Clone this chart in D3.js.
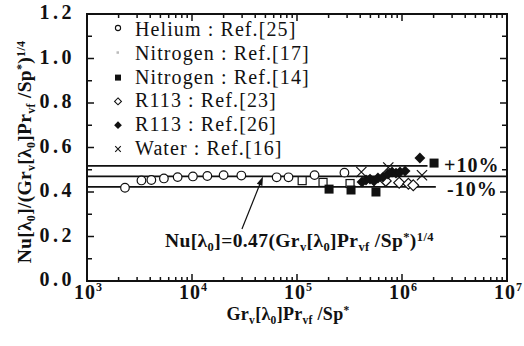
<!DOCTYPE html>
<html>
<head>
<meta charset="utf-8">
<script src="https://cdn.jsdelivr.net/npm/d3@7"></script>
<style>
  html, body { margin: 0; padding: 0; background: #fff; }
  svg { display: block; }
  text { font-family: "Liberation Serif", "Times New Roman", serif; fill: #111; }
</style>
</head>
<body>
<svg id="chart" width="524" height="346"></svg>
<script>
// Helium : Ref.[25]  (open circles)
const heliumX = [2300, 3300, 4100, 5400, 7300, 10200, 14000, 20000, 29500, 64000, 83000, 147000, 283000];
const heliumY = [0.419, 0.452, 0.454, 0.461, 0.467, 0.470, 0.472, 0.476, 0.474, 0.466, 0.466, 0.476, 0.487];
// Nitrogen : Ref.[17]  (open squares)
const nitrogen17X = [112000, 177000, 320000];
const nitrogen17Y = [0.451, 0.443, 0.438];
// Nitrogen : Ref.[14]  (filled squares)
const nitrogen14X = [202000, 327000, 565000, 2020000];
const nitrogen14Y = [0.413, 0.409, 0.400, 0.530];
// R113 : Ref.[23]  (open diamonds)
const r113aX = [700000, 940000, 1150000, 1280000];
const r113aY = [0.450, 0.442, 0.437, 0.430];
// R113 : Ref.[26]  (filled diamonds)
const r113bX = [416000, 454000, 496000, 541000, 590000, 659000, 736000, 804000, 877000, 957000, 1070000, 1480000];
const r113bY = [0.445, 0.454, 0.458, 0.449, 0.463, 0.467, 0.481, 0.490, 0.485, 0.490, 0.494, 0.553];
// Water : Ref.[16]  (crosses)
const waterX = [410000, 740000, 1550000];
const waterY = [0.490, 0.510, 0.475];

// Correlation and ±10 % band
const corrCoef = 0.47;
const bandLabels = ["+10%", "-10%"];
const yTicks = [0.0, 0.2, 0.4, 0.6, 0.8, 1.0, 1.2];
const xDecades = [3, 4, 5, 6, 7];

const legendLabels = [
  "Helium : Ref.[25]", "Nitrogen : Ref.[17]", "Nitrogen : Ref.[14]",
  "R113 : Ref.[23]", "R113 : Ref.[26]", "Water : Ref.[16]"
];

const svg = d3.select("#chart");
const L = 87, R = 507, T = 14, B = 281;
const x = d3.scaleLog().domain([1e3, 1e7]).range([L, R]);
const y = d3.scaleLinear().domain([0, 1.2]).range([B, T]);

// rich text helper: segments of [text, mode] with mode '' | 'sub' | 'sup'
function rich(sel, segs, subSize, shift) {
  let cur = 0;
  segs.forEach(([t, m]) => {
    const target = m === "sub" ? shift : m === "sup" ? -shift * 1.5 : 0;
    const ts = sel.append("tspan").text(t).attr("dy", target - cur);
    if (m) ts.attr("font-size", subSize);
    cur = target;
  });
  return sel;
}

// ---- band lines
const lines = svg.append("g").attr("stroke", "#111").attr("stroke-width", 1.8);
lines.append("line").attr("x1", x(1e3)).attr("x2", x(1.75e6))
  .attr("y1", y(corrCoef * 1.1)).attr("y2", y(corrCoef * 1.1));
lines.append("line").attr("x1", x(1e3)).attr("x2", x(1e7))
  .attr("y1", y(corrCoef)).attr("y2", y(corrCoef));
lines.append("line").attr("x1", x(1e3)).attr("x2", x(2.1e6))
  .attr("y1", y(corrCoef * 0.9)).attr("y2", y(corrCoef * 0.9));

// ---- markers
const g = svg.append("g");
const pts = (xs, ys) => xs.map((v, i) => [x(v), y(ys[i])]);

g.selectAll(".he").data(pts(heliumX, heliumY)).join("circle")
  .attr("cx", d => d[0]).attr("cy", d => d[1]).attr("r", 4.3)
  .attr("fill", "#fff").attr("stroke", "#111").attr("stroke-width", 1.2);

g.selectAll(".n17").data(pts(nitrogen17X, nitrogen17Y)).join("rect")
  .attr("x", d => d[0] - 4).attr("y", d => d[1] - 4).attr("width", 8).attr("height", 8)
  .attr("fill", "#fff").attr("stroke", "#111").attr("stroke-width", 1.2);

g.selectAll(".n14").data(pts(nitrogen14X, nitrogen14Y)).join("rect")
  .attr("x", d => d[0] - 4.5).attr("y", d => d[1] - 4.5).attr("width", 9).attr("height", 9)
  .attr("fill", "#111");

const diamond = d3.symbol().type(d3.symbolDiamond2).size(75);
g.selectAll(".r23").data(pts(r113aX, r113aY)).join("path")
  .attr("transform", d => `translate(${d[0]},${d[1]})`).attr("d", diamond)
  .attr("fill", "#fff").attr("stroke", "#111").attr("stroke-width", 1.2);

g.selectAll(".r26").data(pts(r113bX, r113bY)).join("path")
  .attr("transform", d => `translate(${d[0]},${d[1]})`).attr("d", diamond)
  .attr("fill", "#111");

const cross = d3.symbol().type(d3.symbolX).size(70);
g.selectAll(".w").data(pts(waterX, waterY)).join("path")
  .attr("transform", d => `translate(${d[0]},${d[1]})`).attr("d", cross)
  .attr("fill", "none").attr("stroke", "#111").attr("stroke-width", 1.2);

// ---- axes frame and inward ticks
const ax = svg.append("g").attr("stroke", "#111");
ax.append("rect").attr("x", L).attr("y", T).attr("width", R - L).attr("height", B - T)
  .attr("fill", "none").attr("stroke-width", 2);

const yMinor = d3.range(0, 13).map(i => i / 10);
yMinor.forEach(v => {
  const len = Math.round(v * 10) % 2 === 0 ? 7 : 5;
  ax.append("line").attr("x1", L).attr("x2", L + len).attr("y1", y(v)).attr("y2", y(v)).attr("stroke-width", 1.5);
  ax.append("line").attr("x1", R).attr("x2", R - len).attr("y1", y(v)).attr("y2", y(v)).attr("stroke-width", 1.5);
});
const xMinor = [];
for (let e = 3; e < 7; e++) for (let k = 1; k < 10; k++) xMinor.push([k * Math.pow(10, e), k === 1]);
xMinor.push([1e7, true]);
xMinor.forEach(([v, major]) => {
  const len = major ? 7 : 4;
  ax.append("line").attr("x1", x(v)).attr("x2", x(v)).attr("y1", B).attr("y2", B - len).attr("stroke-width", 1.5);
  ax.append("line").attr("x1", x(v)).attr("x2", x(v)).attr("y1", T).attr("y2", T + len).attr("stroke-width", 1.5);
});

// ---- tick labels
svg.append("g").selectAll("text").data(yTicks).join("text")
  .attr("x", L - 12).attr("y", d => y(d) + 5)
  .attr("text-anchor", "end").attr("font-size", 20).attr("font-weight", "bold")
  .attr("letter-spacing", 3.5)
  .text(d => d.toFixed(1));

svg.append("g").selectAll("text").data(xDecades).join("text")
  .attr("x", d => x(Math.pow(10, d)) + 1).attr("y", 299)
  .attr("text-anchor", "middle").attr("font-size", 20).attr("font-weight", "bold")
  .each(function (d) {
    const t = d3.select(this);
    t.append("tspan").text("10").attr("letter-spacing", 1);
    t.append("tspan").text(String(d)).attr("font-size", 12).attr("dy", -8);
  });

// ---- axis titles
rich(svg.append("text").attr("x", 288).attr("y", 320).attr("text-anchor", "middle")
  .attr("font-size", 18).attr("font-weight", "bold").attr("letter-spacing", 0.3),
  [["Gr", ""], ["v", "sub"], ["[λ", ""], ["0", "sub"], ["]Pr", ""], ["vf", "sub"], [" /Sp", ""], ["*", "sup"]], 11.5, 4);

rich(svg.append("text").attr("transform", "translate(31,152) rotate(-90)").attr("text-anchor", "middle")
  .attr("font-size", 19.5).attr("font-weight", "bold").attr("letter-spacing", 0.3),
  [["Nu[λ", ""], ["0", "sub"], ["]/(Gr", ""], ["v", "sub"], ["[λ", ""], ["0", "sub"], ["]Pr", ""], ["vf", "sub"],
   [" /Sp", ""], ["*", "sup"], [")", ""], ["1/4", "sup"]], 12, 4);

// ---- band labels
svg.append("text").attr("x", 444).attr("y", y(corrCoef * 1.1) + 6).attr("font-size", 20).attr("font-weight", "bold")
  .attr("letter-spacing", 1).text(bandLabels[0]);
svg.append("text").attr("x", 447).attr("y", y(corrCoef * 0.9) + 9).attr("font-size", 20).attr("font-weight", "bold")
  .attr("letter-spacing", 1).text(bandLabels[1]);

// ---- correlation annotation with arrow
const tip = [x(47400), y(corrCoef)];
const tail = [x(29900), y(0.234)];
const ang = Math.atan2(tip[1] - tail[1], tip[0] - tail[0]);
svg.append("line").attr("x1", tail[0]).attr("y1", tail[1]).attr("x2", tip[0] - 6 * Math.cos(ang)).attr("y2", tip[1] - 6 * Math.sin(ang))
  .attr("stroke", "#111").attr("stroke-width", 1.2);
const ah = 9, aw = 3;
svg.append("path").attr("fill", "#111").attr("d", () => {
  const bx = tip[0] - ah * Math.cos(ang), by = tip[1] - ah * Math.sin(ang);
  const px = -Math.sin(ang) * aw, py = Math.cos(ang) * aw;
  return `M${tip[0]},${tip[1]}L${bx + px},${by + py}L${bx - px},${by - py}Z`;
});

rich(svg.append("text").attr("x", 165).attr("y", 247).attr("font-size", 19.5).attr("font-weight", "bold")
  .attr("letter-spacing", 0.4),
  [["Nu[λ", ""], ["0", "sub"], ["]=0.47(Gr", ""], ["v", "sub"], ["[λ", ""], ["0", "sub"], ["]Pr", ""], ["vf", "sub"],
   [" /Sp", ""], ["*", "sup"], [")", ""], ["1/4", "sup"]], 12.5, 4);

// ---- legend
const legX = 118, legTextX = 135, legY0 = 30, legDy = 23.8;
const lg = svg.append("g");
legendLabels.forEach((lab, i) => {
  const cy = legY0 + i * legDy;
  lg.append("text").attr("x", legTextX).attr("y", cy + 6).attr("font-size", 20)
    .attr("letter-spacing", 1.1).text(lab);
});
lg.append("circle").attr("cx", legX).attr("cy", legY0 - 2).attr("r", 2.6).attr("fill", "#fff").attr("stroke", "#111").attr("stroke-width", 1.1);
lg.append("rect").attr("x", legX - 1.5).attr("y", legY0 + legDy - 2.5).attr("width", 2.5).attr("height", 2.5).attr("fill", "#bbb");
lg.append("rect").attr("x", legX - 3).attr("y", legY0 + 2 * legDy - 3).attr("width", 6).attr("height", 6).attr("fill", "#111");
lg.append("path").attr("transform", `translate(${legX},${legY0 + 3 * legDy})`).attr("d", d3.symbol().type(d3.symbolDiamond2).size(30))
  .attr("fill", "#fff").attr("stroke", "#111").attr("stroke-width", 1.1);
lg.append("path").attr("transform", `translate(${legX},${legY0 + 4 * legDy})`).attr("d", d3.symbol().type(d3.symbolDiamond2).size(38))
  .attr("fill", "#111");
lg.append("path").attr("transform", `translate(${legX},${legY0 + 5 * legDy})`).attr("d", d3.symbol().type(d3.symbolX).size(22))
  .attr("fill", "none").attr("stroke", "#111").attr("stroke-width", 1.1);
</script>
</body>
</html>
